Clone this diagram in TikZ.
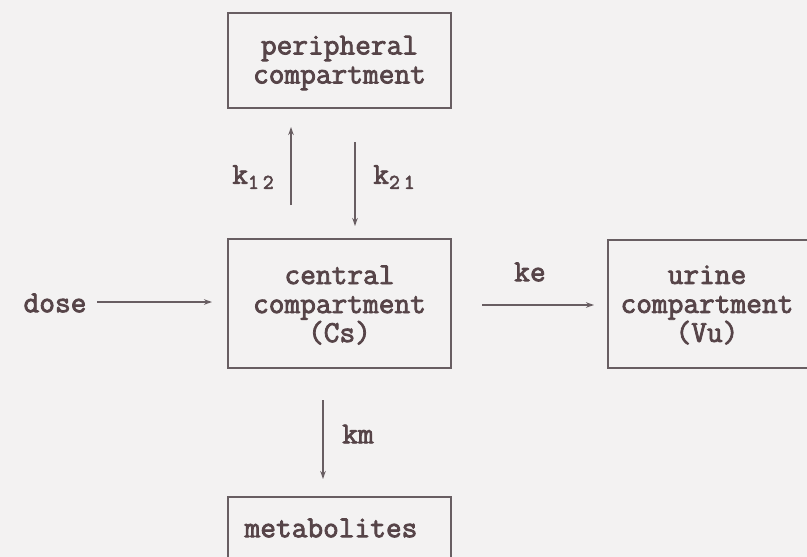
\documentclass[tikz,border=0pt]{standalone}
\usepackage{fontspec}
\setmonofont[FakeBold=2.6]{Latin Modern Mono}
\usetikzlibrary{arrows.meta}
\definecolor{inkc}{RGB}{86,68,72}
\definecolor{linec}{RGB}{104,94,98}
\definecolor{paper}{RGB}{243,242,242}
\newcommand{\subnum}[2]{{\fontsize{21}{21}\selectfont\raisebox{-5pt}{#1\hspace{4pt}#2}}}
\tikzset{
  txt/.style={font=\ttfamily\fontsize{30.5}{29}\selectfont, text=inkc, align=center, inner sep=0pt},
  compbox/.style={draw=linec, line width=1.4pt},
  arr/.style={draw=linec, line width=1.3pt, -{Stealth[length=8pt,width=5.5pt]}}
}
\begin{document}
\begin{tikzpicture}[x=1pt,y=-1pt]
  \useasboundingbox (0,0) rectangle (807,557);
  \fill[paper] (0,0) rectangle (807,557);
  \clip (0,0) rectangle (807,557);

  % compartments
  \draw[compbox] (228,13) rectangle (451,108);
  \node[txt] (periph) at (339.5,63) {peripheral\\compartment};
  \draw[compbox] (228,239) rectangle (451,368);
  \node[txt] (central) at (339.5,305) {central\\compartment\\(Cs)};
  \draw[compbox] (608,240) rectangle (812,368);
  \node[txt] (urine) at (707,305) {urine\\compartment\\(Vu)};
  \draw[compbox] (228,497) rectangle (451,580);
  \node[txt] (metab) at (331,528) {metabolites};

  % free labels
  \node[txt] (dose) at (55,303) {dose};
  \node[txt] (k12) at (253,177) {k\subnum{1}{2}};
  \node[txt] (k21) at (394,177) {k\subnum{2}{1}};
  \node[txt] (ke) at (530,272) {ke};
  \node[txt] (km) at (358,434) {km};

  % arrow end points
  \coordinate (a1) at (291,205); \coordinate (a2) at (291,127);
  \coordinate (b1) at (355,142); \coordinate (b2) at (355,226);
  \coordinate (c1) at (97,302);  \coordinate (c2) at (212,302);
  \coordinate (d1) at (482,305); \coordinate (d2) at (594,305);
  \coordinate (e1) at (323,400); \coordinate (e2) at (323,479);

  \draw[arr] (a1) -- (a2);
  \draw[arr] (b1) -- (b2);
  \draw[arr] (c1) -- (c2);
  \draw[arr] (d1) -- (d2);
  \draw[arr] (e1) -- (e2);
\end{tikzpicture}
\end{document}
